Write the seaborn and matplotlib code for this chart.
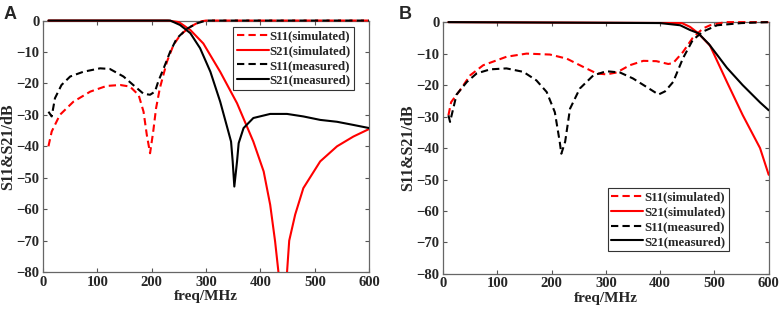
import matplotlib

matplotlib.use("Agg")
import matplotlib.pyplot as plt
import pandas as pd
import seaborn as sns
from matplotlib.lines import Line2D
from matplotlib.transforms import Bbox, TransformedBbox


# Panel A
A_S11_SIM_F = [10, 16, 31, 56, 87, 117, 142, 160, 176, 185, 191, 197, 203, 208, 215, 228, 240, 249, 258, 271, 289, 300, 600]
A_S11_SIM_DB = [-40, -35.3, -30, -25.8, -22.6, -20.8, -20.5, -21, -23.7, -29, -36.4, -42.2, -35, -27.9, -21.5, -13.1, -7.8, -5.5, -3.8, -2, -0.3, 0, 0]

A_S21_SIM_F = [10, 230, 250, 271, 295, 326, 357, 387, 406, 418, 427, 433, 441, 449, 453, 464, 479, 510, 541, 571, 600]
A_S21_SIM_DB = [0, 0, -0.5, -3, -7.3, -16.3, -26.3, -38.5, -48, -58.6, -70.2, -79.7, -100, -80, -70, -61.7, -53.3, -44.8, -40, -36.9, -34.5]

A_S11_MEAS_F = [10, 16, 22, 34, 50, 74, 105, 123, 148, 166, 185, 197, 206, 212, 222, 234, 246, 265, 283, 300, 600]
A_S11_MEAS_DB = [-29, -30.5, -24.7, -20.5, -17.8, -16.3, -15.2, -15.4, -17.8, -20.5, -23.3, -23.6, -22.6, -19.4, -15.2, -9.9, -5.7, -2.6, -0.9, 0, 0]

A_S21_MEAS_F = [10, 234, 252, 271, 289, 308, 326, 341, 346, 349, 352, 357, 360, 369, 387, 418, 449, 479, 510, 541, 571, 600]
A_S21_MEAS_DB = [0, 0, -1.4, -4, -8.8, -16.3, -25.8, -35.3, -38.5, -44.8, -52.8, -44.8, -39, -34.2, -31, -29.7, -29.7, -30.5, -31.6, -32.2, -33.2, -34.2]

# Panel B
B_S11_SIM_F = [10, 15, 31, 50, 74, 117, 154, 197, 228, 258, 283, 301, 320, 344, 369, 393, 415, 424, 442, 460, 479, 492, 520, 600]
B_S11_SIM_DB = [-29.6, -25.4, -21.7, -16.9, -13.7, -11, -10, -10.3, -11.6, -14.2, -16.3, -16.6, -16, -13.7, -12.3, -12.4, -13.3, -13, -9.5, -5, -2, -1, 0, 0]

B_S21_SIM_F = [10, 440, 455, 470, 492, 523, 552, 584, 600]
B_S21_SIM_DB = [0, -0.3, -1.5, -3.5, -7.5, -19, -29.5, -40, -48.5]

B_S11_MEAS_F = [10, 13, 25, 44, 62, 87, 117, 148, 172, 191, 206, 215, 218, 225, 234, 252, 277, 301, 326, 350, 375, 397, 409, 424, 442, 460, 479, 505, 550, 600]
B_S11_MEAS_DB = [-29.6, -31.7, -23, -19, -16.3, -15, -14.7, -15.8, -18.5, -22.2, -28.6, -38, -41.8, -38, -27.5, -21.1, -16.9, -15.6, -16, -17.9, -20.6, -23, -22, -19, -11.5, -5.7, -3, -1, -0.3, 0]

B_S21_MEAS_F = [10, 400, 437, 455, 470, 490, 523, 552, 584, 600]
B_S21_MEAS_DB = [0, -0.3, -1, -2.5, -3.5, -7, -14.5, -20, -25.5, -28]

LABELS = ["S11(simulated)", "S21(simulated)", "S11(measured)", "S21(measured)"]
COLORS = ["#ff0000", "#ff0000", "#000000", "#000000"]
STYLES = ["--", "-", "--", "-"]
DASHES = (3.5, 2)

PANELS = {
    "A": [(A_S11_SIM_F, A_S11_SIM_DB), (A_S21_SIM_F, A_S21_SIM_DB),
          (A_S11_MEAS_F, A_S11_MEAS_DB), (A_S21_MEAS_F, A_S21_MEAS_DB)],
    "B": [(B_S11_SIM_F, B_S11_SIM_DB), (B_S21_SIM_F, B_S21_SIM_DB),
          (B_S11_MEAS_F, B_S11_MEAS_DB), (B_S21_MEAS_F, B_S21_MEAS_DB)],
}

sns.set_theme(style="ticks")
plt.rcParams["font.family"] = ["Liberation Serif", "DejaVu Serif"]
plt.rcParams["font.weight"] = "bold"
plt.rcParams["axes.labelweight"] = "bold"

fig = plt.figure(figsize=(7.82, 3.16), dpi=100)
ax_a = fig.add_axes([0.055, 0.139, 0.417, 0.796])
ax_b = fig.add_axes([0.5665, 0.133, 0.4165, 0.797])

for ax, key in [(ax_a, "A"), (ax_b, "B")]:
    for (f, db), label, color, style in zip(PANELS[key], LABELS, COLORS, STYLES):
        df = pd.DataFrame({"freq": f, "db": db})
        sns.lineplot(data=df, x="freq", y="db", ax=ax, color=color,
                     linewidth=1.5, linestyle=style, legend=False)
        line = ax.lines[-1]
        if style == "--":
            line.set_dashes(DASHES)
        # let the 0 dB lines show fully on top of the frame
        line.set_zorder(3)
        line.set_clip_box(TransformedBbox(Bbox([[0, 0], [1, 1.02]]), ax.transAxes))

    ax.set_xlim(0, 600)
    ax.set_ylim(-80, 0)
    ax.set_xticks(range(0, 601, 100))
    ax.set_yticks(range(-80, 1, 10))
    ax.set_xlabel("freq/MHz", fontsize=11, labelpad=1)
    ax.set_ylabel("S11&S21/dB", fontsize=11.5, labelpad=0)
    ax.tick_params(direction="in", top=True, right=True, length=3,
                   width=0.8, color="#555555", labelsize=10.5, pad=2.5)
    for lbl in ax.get_xticklabels() + ax.get_yticklabels():
        lbl.set_fontweight("bold")
    for sp in ax.spines.values():
        sp.set_color("#666666")
        sp.set_linewidth(0.9)

handles = [Line2D([], [], color=c, linestyle=s, linewidth=1.5,
                  dashes=DASHES if s == "--" else (None, None))
           for c, s in zip(COLORS, STYLES)]
for ax, loc, anchor in [(ax_a, "upper right", (0.954, 0.974)),
                        (ax_b, "lower right", (0.877, 0.091))]:
    leg = ax.legend(handles, LABELS, loc=loc, bbox_to_anchor=anchor,
                    borderaxespad=0, handlelength=2.5, handletextpad=0.1,
                    labelspacing=0.22, borderpad=0.25, fancybox=False,
                    framealpha=1, edgecolor="#333333",
                    prop={"weight": "bold", "size": 9.2})
    leg.get_frame().set_linewidth(0.8)

fig.text(0.005, 0.98, "A", fontsize=13, fontweight="bold", va="top",
         family=["Liberation Sans", "DejaVu Sans"])
fig.text(0.51, 0.98, "B", fontsize=13, fontweight="bold", va="top",
         family=["Liberation Sans", "DejaVu Sans"])

plt.savefig("out.png", dpi=100)
plt.close()
